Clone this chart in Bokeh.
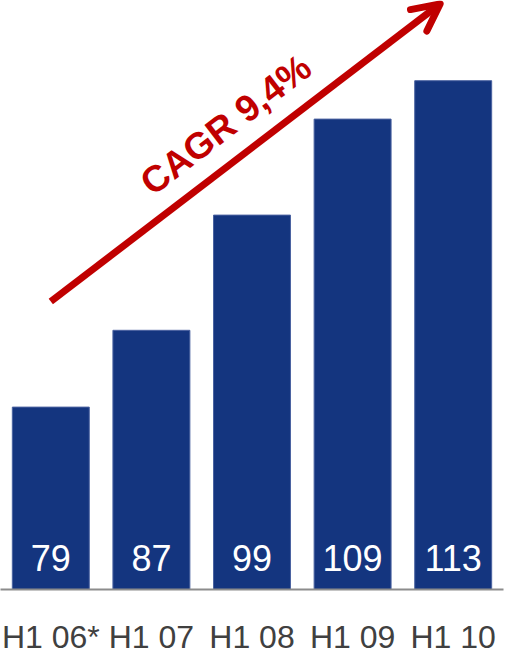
from bokeh.plotting import figure
from bokeh.models import ColumnDataSource, FactorRange, Range1d, Arrow, OpenHead, Label, LabelSet
from bokeh.core.properties import value
from bokeh.embed import file_html
from bokeh.resources import INLINE

# ---- data ----
categories = ["H1 06*", "H1 07", "H1 08", "H1 09", "H1 10"]
values = [79, 87, 99, 109, 113]
value_labels = ["79", "87", "99", "109", "113"]
cagr_text = "CAGR 9,4%"
# arrow annotation (data coordinates: category index, value)
arrow_x = [0.5, 4.37]
arrow_y = [90.0, 121.0]
label_pos = [2.24, 108.4]
value_label_y = 63.3

BLUE = "#14357f"
RED = "#c00000"

src = ColumnDataSource(dict(
    cat=categories,
    val=values,
    txt=value_labels,
    ly=[value_label_y] * len(categories),
))

p = figure(
    x_range=FactorRange(*categories, range_padding=0),
    y_range=Range1d(60, 60 + 589 / 9.6),
    frame_width=503, frame_height=589,
    min_border_left=0, min_border_right=3, min_border_top=0, min_border_bottom=0,
    output_backend="svg", toolbar_location=None,
    y_axis_location=None,
)
p.outline_line_color = None
p.xgrid.grid_line_color = None
p.ygrid.grid_line_color = None
p.background_fill_color = "white"
p.border_fill_color = "white"

p.vbar(x="cat", top="val", bottom=0, width=0.765, source=src,
       fill_color=BLUE, line_color="#4a62a0", line_width=1)

labels = LabelSet(x="cat", y="ly", text="txt", source=src,
                  text_color="white", text_font=value("Liberation Sans"),
                  text_font_size="36px", text_align="center", text_baseline="middle")
p.add_layout(labels)

ax = p.xaxis[0]
ax.axis_line_color = "#8c8c8c"
ax.axis_line_width = 2
ax.major_tick_line_color = None
ax.minor_tick_line_color = None
ax.major_tick_out = 0
ax.major_tick_in = 0
ax.major_label_standoff = 29
ax.major_label_text_font = "Liberation Sans"
ax.major_label_text_font_size = "32px"
ax.major_label_text_color = "#404040"

arrow = Arrow(x_start=arrow_x[0], y_start=arrow_y[0], x_end=arrow_x[1], y_end=arrow_y[1],
              line_color=RED, line_width=7,
              end=OpenHead(size=27, line_color=RED, line_width=7, line_cap="round", line_join="round"))
p.add_layout(arrow)

lab = Label(x=label_pos[0], y=label_pos[1], text=cagr_text, angle=37.5, angle_units="deg",
            text_color=RED, text_font="Liberation Sans", text_font_style="bold",
            text_font_size="37px", text_align="center", text_baseline="middle")
p.add_layout(lab)

open("out.html", "w").write(file_html(p, INLINE))
